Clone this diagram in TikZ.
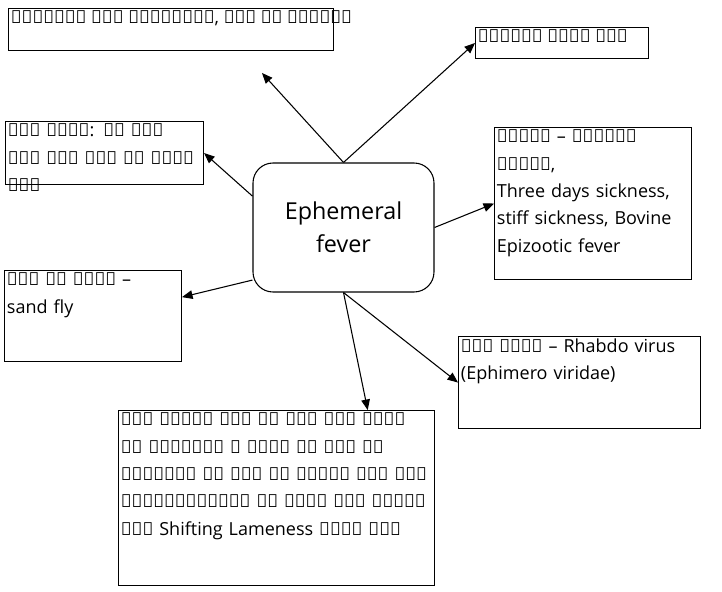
\documentclass[tikz,border=0pt]{standalone}
\usepackage{fontspec}
\setmainfont{Open Sans}
\usetikzlibrary{arrows,positioning}
\hyphenpenalty=10000
\exhyphenpenalty=10000
\tikzset{
  box/.style={draw,thick,anchor=north west,inner sep=0pt},
  txt/.style={anchor=north west,align=left,inner sep=2pt,font=\fontsize{13.5pt}{20.5pt}\selectfont},
  arr/.style={thick,-triangle 45}
}
\begin{document}
\begin{tikzpicture}[x=0.75pt,y=-0.75pt]
    \useasboundingbox (0,0) rectangle (722,592);
    \node[box,minimum width=243.75pt,minimum height=31.5pt] (tl) at (8,8) {};
    \node[txt] at (tl.north west) {पेशियों में कंपकपाहट, सिर को हिलाना};
    \node[box,minimum width=129.75pt,minimum height=23.25pt] (tr) at (475,27) {};
    \node[txt] at (tr.north west) {विषाणु जनित रोग};
    \node[box,minimum width=148.5pt,minimum height=47.25pt] (lb) at (5,121) {};
    \node[txt,text width=140pt] at (lb.north west) {पशु स्वत: ही तीन दिन बाद ठीक हो जाता है।};
    \node[draw,thick,rounded corners=15pt,minimum width=135.75pt,minimum height=96.75pt,
          align=center,font=\fontsize{17.5pt}{25pt}\selectfont] (ctr) at (343.5,227.5) {Ephemeral\\fever};
    \node[box,minimum width=147.75pt,minimum height=114pt] (rb) at (494,127) {};
    \node[txt,text width=142pt] at (rb.north west) {उपनाम – अढ़ैया बुखार,\\Three days sickness, stiff sickness, Bovine Epizootic fever};
    \node[box,minimum width=132.75pt,minimum height=68.25pt] (lv) at (4,270) {};
    \node[txt,text width=128pt] at (lv.north west) {रोग की वाहक – sand fly};
    \node[box,minimum width=181.5pt,minimum height=69pt] (rk) at (458,336) {};
    \node[txt,text width=176pt] at (rk.north west) {रोग कारक – Rhabdo virus (Ephimero viridae)};
    \node[box,minimum width=237pt,minimum height=131.25pt] (bt) at (118,410) {};
    \node[txt,text width=232pt] at (bt.north west) {तेज बुखार पशु के पैर में दर्द और लगड़ापन आ जाता है तथा यह लगड़ापन एक पैर से दुसरे पैर में स्थानान्तरित हो जाता है। इसलिए इसे Shifting Lameness कहते है।};
    \coordinate (free) at (262,73);
    % connectors
    \draw[arr] (ctr.north) -- (free);
    \draw[arr] (ctr.north) -- (tr.west);
    \draw[arr] (ctr.161) -- (lb.east);
    \draw[arr] (ctr.east) -- (rb.west);
    \draw[arr] (ctr.210) -- (lv.12);
    \draw[arr] (ctr.south) -- (rk.west);
    \draw[arr] (ctr.south) -- (bt.44);
\end{tikzpicture}
\end{document}
